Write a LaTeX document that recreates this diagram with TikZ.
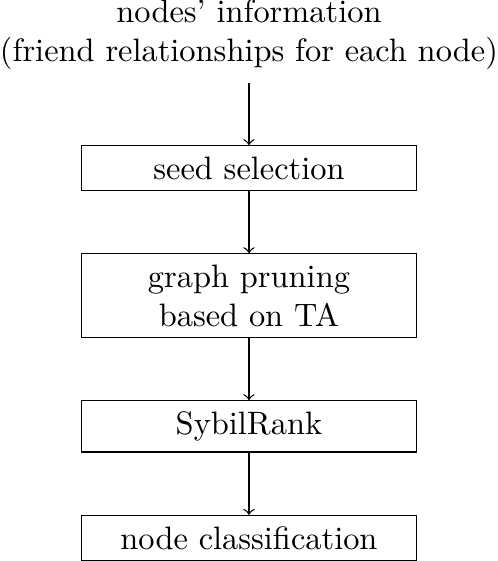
\documentclass[tikz,border=0pt]{standalone}
\usetikzlibrary{positioning}

\begin{document}
\begin{tikzpicture}[node distance=0.675cm,auto,
    box/.style={draw,minimum width=3.63cm,align=center}]
      \node[align=center,inner sep=0pt,outer sep=4pt] (info) {nodes' information\\(friend relationships for each node)};
      \node[box]                        (seed)  [below=of info]   {seed selection};
      \node[box]                        (prune) [below=of seed]   {graph pruning\\based on TA};
      \node[box]                        (rank)  [below=of prune]  {SybilRank};
      \node[box]                        (class) [below=of rank]   {node classification};

      \path[->] (info)  edge (seed)
                (seed)  edge (prune)
                (prune) edge (rank)
                (rank)  edge (class);
\end{tikzpicture}
\end{document}
